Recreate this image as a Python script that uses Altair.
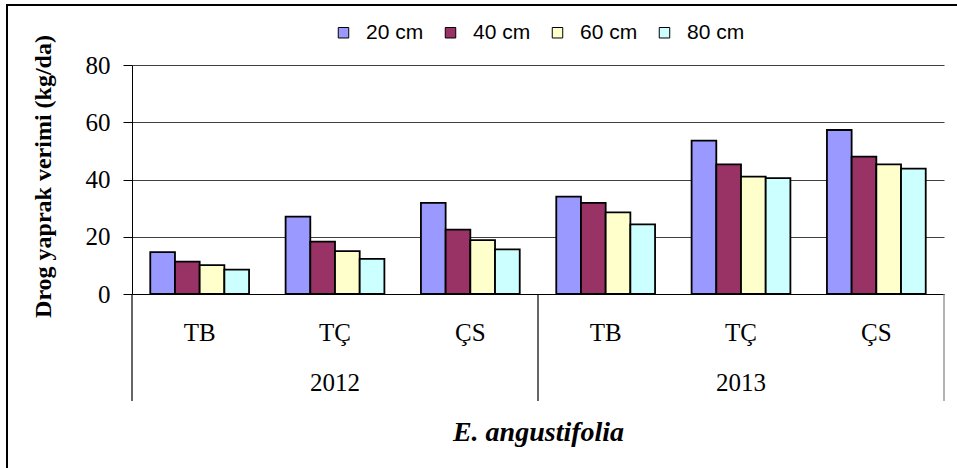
import altair as alt
import pandas as pd

years = ["2012", "2013"]
sites = ["TB", "TÇ", "ÇS"]
series = ["20 cm", "40 cm", "60 cm", "80 cm"]
v20 = [14.6, 27.0, 31.8, 34.0, 53.6, 57.3]
v40 = [11.3, 18.3, 22.5, 31.8, 45.3, 48.0]
v60 = [10.1, 15.0, 18.8, 28.5, 41.0, 45.3]
v80 = [8.5, 12.3, 15.6, 24.3, 40.5, 43.8]
colors = ["#9999FF", "#993366", "#FFFFCC", "#CCFFFF"]
y_ticks = [0, 20, 40, 60, 80]

keys = [f"{y}|{s}" for y in years for s in sites]
rows = []
for name, vals in zip(series, [v20, v40, v60, v80]):
    for k, v in zip(keys, vals):
        rows.append({"key": k, "series": name, "value": v})
bars_df = pd.DataFrame(rows)

site_df = pd.DataFrame({"pos": [i + 0.5 for i in range(len(keys))],
                        "label": [s for y in years for s in sites]})
year_df = pd.DataFrame({"pos": [len(sites) * (i + 0.5) for i in range(len(years))],
                        "label": years})
div_df = pd.DataFrame({"pos": [len(sites) * i for i in range(len(years) + 1)]})

W, H = 812, 229
qx = alt.X("pos:Q", scale=alt.Scale(domain=[0, len(keys)], nice=False, zero=False), axis=None)

bars = alt.Chart(bars_df).mark_bar(stroke="black", strokeWidth=1.8).encode(
    x=alt.X("key:N", sort=keys,
            scale=alt.Scale(paddingInner=0.27, paddingOuter=0.135),
            axis=alt.Axis(labels=False, ticks=False, domain=True, domainColor="black",
                          domainWidth=1, title="E. angustifolia",
                          titleFont="Liberation Serif", titleFontSize=28,
                          titleFontStyle="italic", titleFontWeight="bold",
                          titleColor="black", titleY=138, titleBaseline="middle")),
    xOffset=alt.XOffset("series:N", sort=series,
                        scale=alt.Scale(paddingInner=0, paddingOuter=0)),
    y=alt.Y("value:Q", scale=alt.Scale(domain=[0, 80], nice=False),
            axis=alt.Axis(values=y_ticks, grid=True, gridColor="#404040", gridWidth=1,
                          domainColor="black", tickColor="black", tickSize=9,
                          labelFont="Liberation Serif", labelFontSize=25,
                          labelColor="black", labelPadding=13,
                          title="Drog yaprak verimi (kg/da)",
                          titleFont="Liberation Serif", titleFontSize=24,
                          titleFontWeight="bold", titleColor="black",
                          titleX=-82, titleY=111, titleBaseline="alphabetic",
                          titleAlign="center", titleAngle=270)),
    color=alt.Color("series:N", sort=series,
                    scale=alt.Scale(domain=series, range=colors),
                    legend=alt.Legend(orient="none", legendX=201, legendY=-43,
                                      direction="horizontal", columns=4, title=None,
                                      symbolType="square", symbolSize=110,
                                      symbolStrokeColor="black", symbolStrokeWidth=1,
                                      labelFont="Liberation Sans", labelFontSize=21,
                                      labelColor="black", labelOffset=12,
                                      columnPadding=16, padding=0)),
)

rules = alt.Chart(div_df).mark_rule(strokeWidth=1.2).encode(
    x=qx,
    y=alt.value(H),
    y2=alt.value(H + 107),
    color=alt.condition(alt.datum.pos == len(keys), alt.value("#808080"), alt.value("black")),
)

site_text = alt.Chart(site_df).mark_text(font="Liberation Serif", fontSize=25,
                                         baseline="middle", color="black").encode(
    x=qx, y=alt.value(268), text="label:N")

year_text = alt.Chart(year_df).mark_text(font="Liberation Serif", fontSize=25,
                                         baseline="middle", color="black").encode(
    x=qx, y=alt.value(318), text="label:N")

border = alt.Chart(pd.DataFrame({"a": [0]})).mark_rect(
    fill="transparent", stroke="black", strokeWidth=2).encode(
    x=alt.value(-125), x2=alt.value(840), y=alt.value(-60), y2=alt.value(420))

chart = alt.layer(bars, rules, site_text, year_text, border).resolve_scale(
    x="independent"
).properties(
    width=W, height=H,
    autosize=alt.AutoSizeParams(type="none"),
    padding={"left": 132, "top": 65, "right": 13, "bottom": 174},
).configure_view(strokeWidth=0)

chart.save("out.html", embed_options={"renderer": "svg", "actions": False})
